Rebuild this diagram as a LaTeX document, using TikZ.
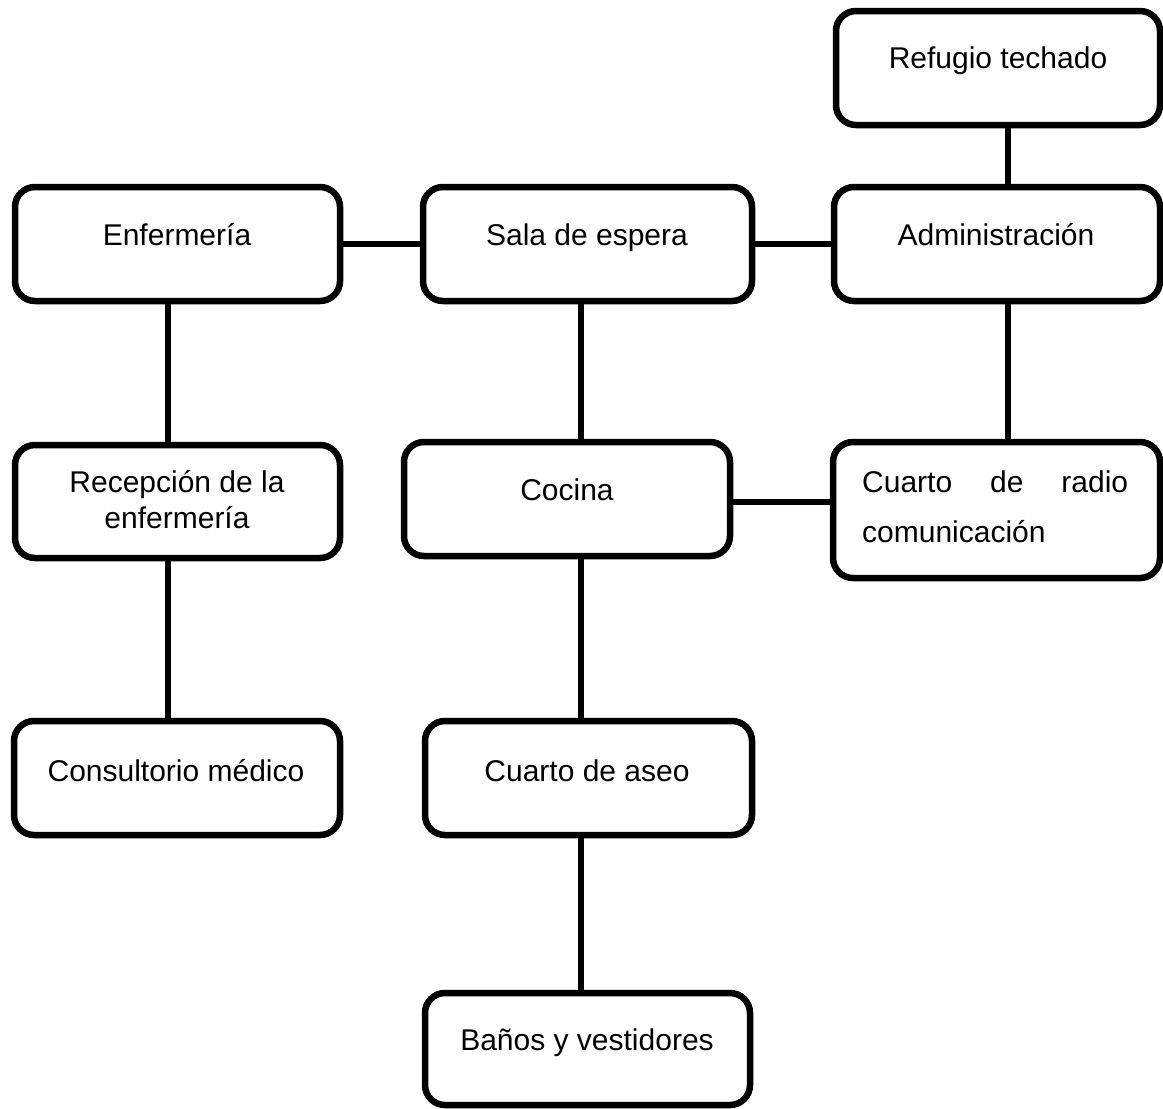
\documentclass[tikz,border=0pt]{standalone}
\usepackage{fontspec}
\setmainfont{Liberation Sans}
\begin{document}
\begin{tikzpicture}[x=1pt,y=-1pt,
  roombox/.style={draw=black, line width=6.5pt, rounded corners=20pt, inner sep=0pt, fill=white},
  lbl/.style={anchor=base, inner sep=0pt, font=\fontsize{30}{36}\selectfont},
  conn/.style={draw=black, line width=6.5pt}]
\useasboundingbox[fill=white] (0,0) rectangle (1163,1109);
% boxes: (left,top) rectangle (right,bottom)
\node[roombox, minimum width=324pt, minimum height=114pt] (ref) at (998,68) {};
\node[roombox, minimum width=325pt, minimum height=114pt] (enf) at (177.5,244) {};
\node[roombox, minimum width=329pt, minimum height=114pt] (sala) at (587.5,244) {};
\node[roombox, minimum width=326pt, minimum height=114pt] (adm) at (997,244) {};
\node[roombox, minimum width=325pt, minimum height=113pt] (rec) at (177.5,501.5) {};
\node[roombox, minimum width=326pt, minimum height=114pt] (coc) at (567,499) {};
\node[roombox, minimum width=327pt, minimum height=136pt] (rad) at (996.5,510) {};
\node[roombox, minimum width=326pt, minimum height=114pt] (con) at (177,778) {};
\node[roombox, minimum width=327pt, minimum height=114pt] (ase) at (588.5,778) {};
\node[roombox, minimum width=325pt, minimum height=112pt] (ban) at (587.5,1049) {};
% connector guide coordinates
\coordinate (xr) at (1008,0);
\coordinate (xl) at (168,0);
\coordinate (xm) at (581,0);
\coordinate (yr) at (0,502);
% connectors
\draw[conn] (enf.east) -- (sala.west);
\draw[conn] (sala.east) -- (adm.west);
\draw[conn] (ref.south -| xr) -- (adm.north -| xr);
\draw[conn] (adm.south -| xr) -- (rad.north -| xr);
\draw[conn] (enf.south -| xl) -- (rec.north -| xl);
\draw[conn] (rec.south -| xl) -- (con.north -| xl);
\draw[conn] (sala.south -| xm) -- (coc.north -| xm);
\draw[conn] (coc.south -| xm) -- (ase.north -| xm);
\draw[conn] (ase.south -| xm) -- (ban.north -| xm);
\draw[conn] (coc.east |- yr) -- (rad.west |- yr);
% texts
\node[lbl] (t-ref) at (998,68) {Refugio techado};
\node[lbl] (t-enf) at (177,245) {Enfermería};
\node[lbl] (t-sala) at (587,245) {Sala de espera};
\node[lbl] (t-adm) at (996,245) {Administración};
\node[lbl] (t-rec1) at (177,492) {Recepción de la};
\node[lbl] (t-rec2) at (177,528) {enfermería};
\node[lbl] (t-coc) at (567,500) {Cocina};
\node[lbl, anchor=base west] (t-rad1) at (862,492) {\hbox to 266pt{Cuarto\hfill de\hfill radio}};
\node[lbl, anchor=base west] (t-rad2) at (862,542) {comunicación};
\node[lbl] (t-con) at (176,781) {Consultorio médico};
\node[lbl] (t-ase) at (587,781) {Cuarto de aseo};
\node[lbl] (t-ban) at (587,1050) {Baños y vestidores};
\end{tikzpicture}
\end{document}
